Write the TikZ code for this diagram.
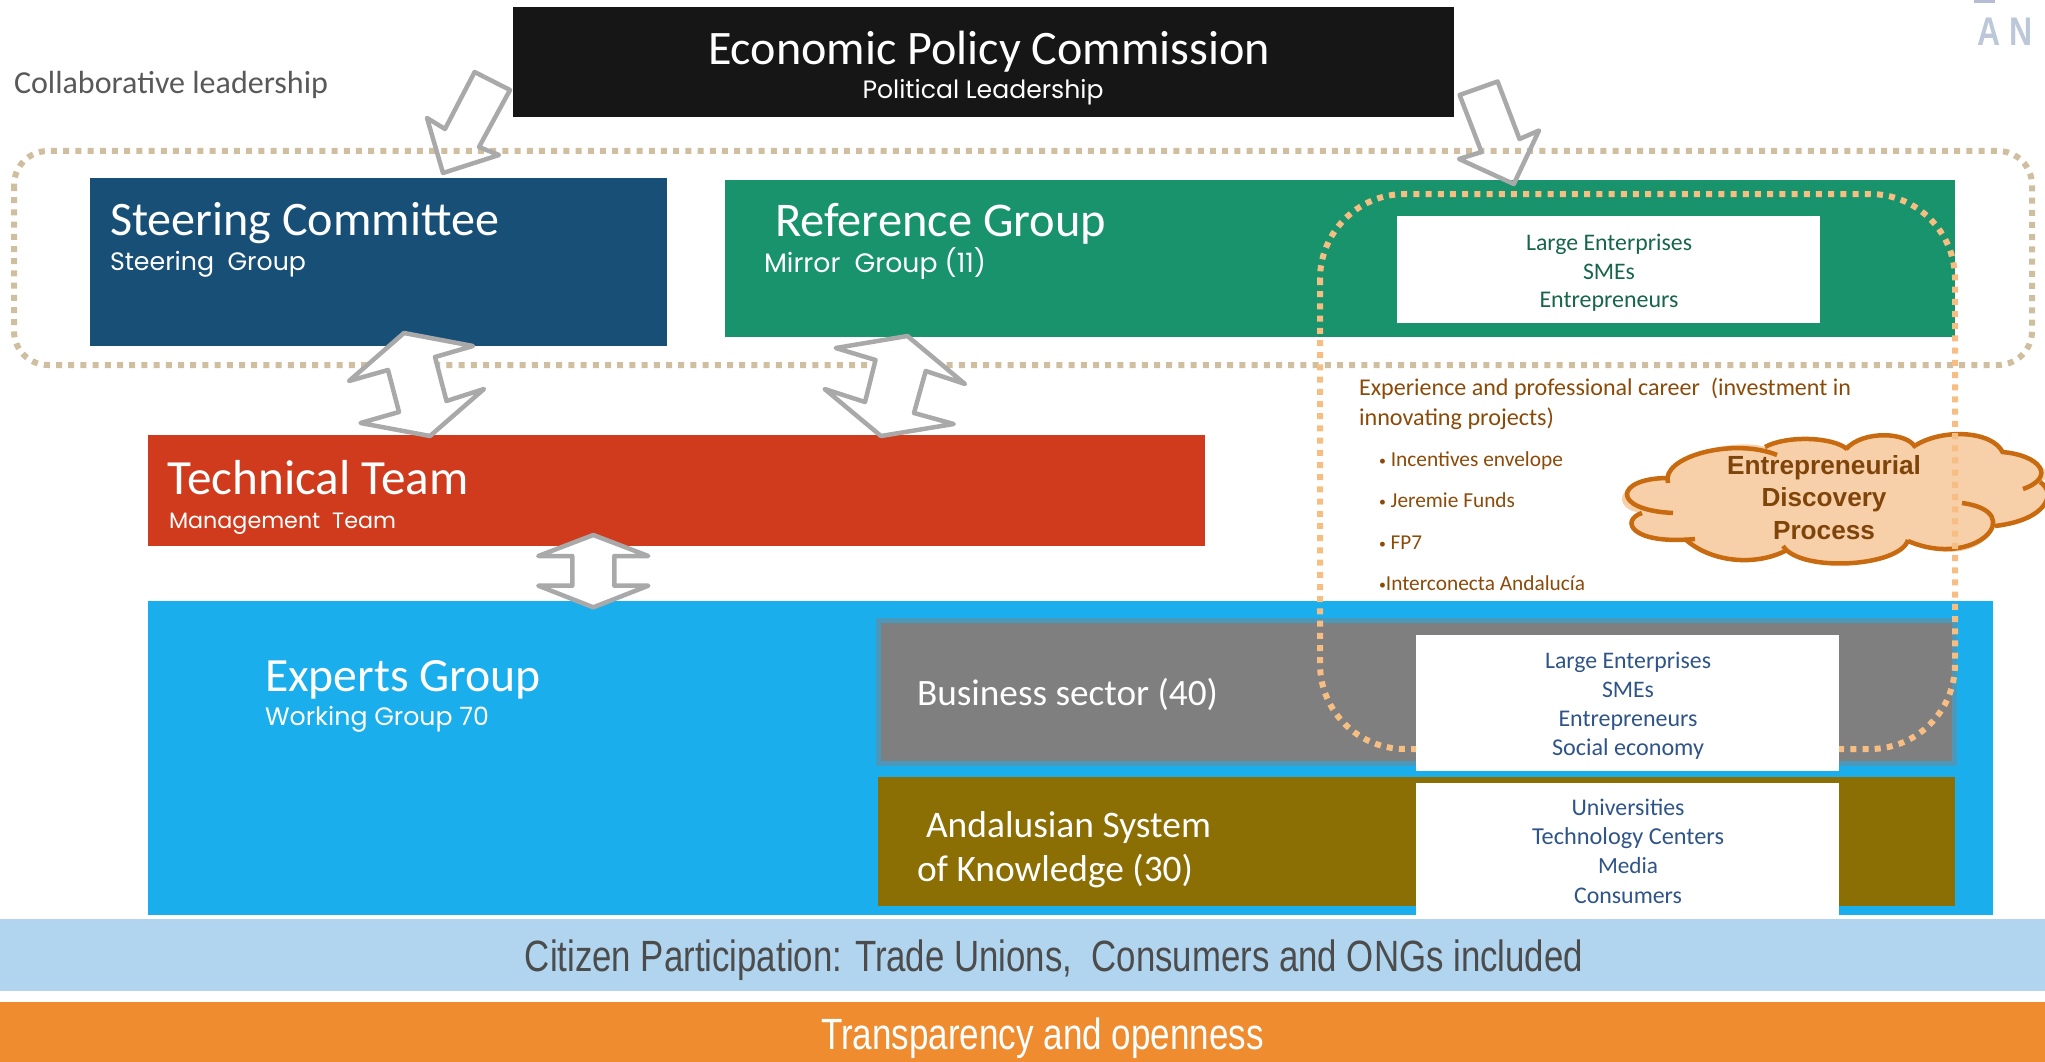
\documentclass[tikz,border=0pt]{standalone}
\usepackage{fontspec}
\usepackage{graphicx}
\setmainfont{Carlito}
\newfontfamily\comicf{Poppins}
\newfontfamily\arialf{Liberation Sans}
\newcommand{\tstrut}{\rule[-9.6pt]{0pt}{48pt}}
\newcommand{\ft}[2]{\resizebox{#1pt}{!}{\fontsize{40}{48}\selectfont\tstrut #2}}
\newcommand{\fc}[2]{\resizebox{#1pt}{!}{\comicf\fontsize{40}{48}\selectfont\tstrut #2}}
\newcommand{\sbul}{\raisebox{3pt}{\scalebox{.65}{•}}}
\definecolor{cblack}{HTML}{161616}
\definecolor{csteer}{HTML}{174F77}
\definecolor{cref}{HTML}{18936B}
\definecolor{ctech}{HTML}{CF3B1C}
\definecolor{cexp}{HTML}{1AAEEC}
\definecolor{cgrey}{HTML}{7F7F7F}
\definecolor{cgborder}{HTML}{4B98BA}
\definecolor{candal}{HTML}{8B6E04}
\definecolor{ccit}{HTML}{B1D4EF}
\definecolor{corange}{HTML}{EE8C2F}
\definecolor{ctan}{HTML}{CFBFA0}
\definecolor{cdot}{HTML}{F7BE84}
\definecolor{carrow}{HTML}{A9A9A9}
\definecolor{ccloud}{HTML}{F7CFA8}
\definecolor{ccloudl}{HTML}{C76A10}
\definecolor{cbrown}{HTML}{8B4A08}
\definecolor{ccloudt}{HTML}{7F4409}
\definecolor{cgreen}{HTML}{17654A}
\definecolor{cnavy}{HTML}{2F5488}
\definecolor{clogo}{HTML}{BCC8DA}
\definecolor{clogob}{HTML}{B5BDD6}
\tikzset{
  box/.style={anchor=north west,inner sep=0pt,outer sep=0pt,draw=none},
  lab/.style={anchor=west,inner sep=0pt,outer sep=0pt,text=white},
  clab/.style={anchor=center,inner sep=0pt,outer sep=0pt},
  blockarrow/.style={draw=carrow,line width=4.5pt,line join=round},
  blockfilled/.style={blockarrow,fill=white},
  dottan/.style={draw=ctan,line width=6pt,dash pattern=on 6pt off 6.2pt,rounded corners=34pt},
  dotorange/.style={draw=cdot,line width=6pt,dash pattern=on 6pt off 6.2pt,rounded corners=85pt},
  cloudarc/.style={draw=ccloudl,line width=4.5pt},
}
\begin{document}
\begin{tikzpicture}[x=1pt,y=-1pt]
\useasboundingbox (0,0) rectangle (2045,1062);
\begin{scope}
\clip (0,0) rectangle (2045,1062);
% tan dotted frame
\draw[dottan] (14,151) rectangle (2032,365);
% boxes
\node[box,fill=cblack,minimum width=941pt,minimum height=110pt] (epc) at (513,7) {};
\node[box,fill=csteer,minimum width=577pt,minimum height=168pt] (steer) at (90,178) {};
\node[box,fill=cref,minimum width=1230pt,minimum height=157pt] (ref) at (725,180) {};
\node[box,fill=ctech,minimum width=1057pt,minimum height=111pt] (tech) at (148,435) {};
\node[box,fill=cexp,minimum width=1845pt,minimum height=314pt] (exp) at (148,601) {};
\node[box,fill=cgrey,draw=cgborder,line width=5pt,minimum width=1076pt,minimum height=143pt] (bus) at (878.5,620.5) {};
\node[box,fill=candal,minimum width=1077pt,minimum height=129pt] (and) at (878,777) {};
\node[box,fill=white,minimum width=423pt,minimum height=107pt] (w1) at (1397,216) {};
% block arrows
\draw[blockarrow] (474.6,72) -- (510,90) -- (479,147) -- (499,155) -- (443,173) -- (427,118) -- (445,129) -- cycle;
\draw[blockarrow] (1497.6,81.5) -- (1519.5,139) -- (1539,130.5) -- (1513.8,184) -- (1459,159) -- (1481.5,152) -- (1459.6,95) -- cycle;
\draw[blockfilled] (404,333) -- (473,346) -- (435,357) -- (446.5,401) -- (484,389) -- (430,436) -- (360.5,423) -- (399,412) -- (388,370) -- (349,381) -- cycle;
\draw[blockfilled] (907.4,336) -- (965,384) -- (925.7,371) -- (914,413) -- (953.7,424) -- (881,436) -- (824.6,389) -- (865,402) -- (875.5,360) -- (835.7,348) -- cycle;
\draw[blockfilled] (593.3,535) -- (648.3,556) -- (614.3,556) -- (614.3,585.7) -- (648.3,585.7) -- (593.3,607.3) -- (538.3,585.7) -- (572.3,585.7) -- (572.3,556) -- (538.3,556) -- cycle;
% cloud fill
\fill[ccloud]
  (1668,483) .. controls (1660,457) and (1733,437) .. (1765,447)
  .. controls (1787,435) and (1833,437) .. (1847,449)
  .. controls (1863,430) and (1907,432) .. (1915,447)
  .. controls (1940,428) and (1993,430) .. (2003,453)
  .. controls (2040,455) and (2057,477) .. (2040,482)
  .. controls (2057,493) and (2047,520) .. (1995,526)
  .. controls (1985,550) and (1950,562) .. (1908,541)
  .. controls (1900,567) and (1800,573) .. (1785,548)
  .. controls (1755,567) and (1710,562) .. (1685,539)
  .. controls (1630,545) and (1620,520) .. (1642,513)
  .. controls (1610,510) and (1615,478) .. (1668,478) -- cycle;
% cloud outline arcs
\draw[cloudarc] (1668,483) .. controls (1660,457) and (1733,437) .. (1777,455);
\draw[cloudarc] (1765,447) .. controls (1787,435) and (1833,437) .. (1847,449);
\draw[cloudarc] (1846,449) .. controls (1863,430) and (1907,432) .. (1915,447);
\draw[cloudarc] (1913,447) .. controls (1940,428) and (1993,430) .. (2003,453);
\draw[cloudarc] (2002,452) .. controls (2040,455) and (2057,477) .. (2023,489);
\draw[cloudarc] (2040,482) .. controls (2057,493) and (2047,520) .. (1995,526);
\draw[cloudarc] (1962,503) .. controls (2030,512) and (1975,570) .. (1908,541);
\draw[cloudarc] (1908,540) .. controls (1900,567) and (1800,573) .. (1783,546);
\draw[cloudarc] (1787,550) .. controls (1755,567) and (1710,562) .. (1685,539);
\draw[cloudarc] (1695,539) .. controls (1630,545) and (1620,520) .. (1642,513);
\draw[cloudarc] (1673,513) .. controls (1610,510) and (1615,478) .. (1668,478);
% orange dotted
\draw[dotorange] (1320,194) rectangle (1955,749);
% white boxes over dots
\node[box,fill=white,minimum width=423pt,minimum height=136pt] (w2) at (1416,635) {};
\node[box,fill=white,minimum width=423pt,minimum height=136pt] (w3) at (1416,783) {};
% bands
\node[box,fill=ccit,minimum width=2045pt,minimum height=72pt] (cit) at (0,919) {};
\node[box,fill=corange,minimum width=2045pt,minimum height=60pt] (trans) at (0,1002) {};
% logo fragment
\fill[clogob] (1974,0) rectangle (1995,3);
\end{scope}
% text
\node[clab,text=white] (t1) at (989,47) {\ft{562}{Economic Policy Commission}};
\node[clab,text=white] (t2) at (983,90) {\fc{241}{Political Leadership}};
\node[lab,text=black!65] (t3) at (14,82) {\ft{314}{Collaborative leadership}};
\node[lab] (t4) at (110,218) {\ft{389}{Steering Committee}};
\node[lab] (t5) at (110,262) {\fc{196}{Steering\ \ Group}};
\node[lab] (t6) at (775,219) {\ft{331}{Reference Group}};
\node[lab] (t7) at (764,263) {\fc{222}{Mirror\ \ Group (11)}};
\node[lab] (t8) at (167.5,477) {\ft{301}{Technical Team}};
\node[lab] (t9) at (169,521) {\fc{227}{Management\ \ Team}};
\node[lab] (t10) at (265,674) {\ft{276}{Experts Group}};
\node[lab] (t11) at (265,717) {\fc{224}{Working Group 70}};
\node[lab] (t12) at (917,692) {\ft{301}{Business sector (40)}};
\node[lab] (t13) at (926,824) {\ft{285}{Andalusian System}};
\node[lab] (t14) at (917,868) {\ft{276}{of Knowledge (30)}};
\node[clab,text=cgreen] at (1609,242) {\ft{166}{Large Enterprises}};
\node[clab,text=cgreen] at (1609,271) {\ft{52}{SMEs}};
\node[clab,text=cgreen] at (1609,299) {\ft{139}{Entrepreneurs}};
\node[clab,text=cnavy] at (1628,660) {\ft{166}{Large Enterprises}};
\node[clab,text=cnavy] at (1628,689) {\ft{52}{SMEs}};
\node[clab,text=cnavy] at (1628,718) {\ft{139}{Entrepreneurs}};
\node[clab,text=cnavy] at (1628,747) {\ft{152}{Social economy}};
\node[clab,text=cnavy] at (1628,807) {\ft{113}{Universities}};
\node[clab,text=cnavy] at (1628,836) {\ft{192}{Technology Centers}};
\node[clab,text=cnavy] at (1628,865) {\ft{60}{Media}};
\node[clab,text=cnavy] at (1628,895) {\ft{108}{Consumers}};
\node[lab,text=cbrown] at (1359,387) {\ft{492}{Experience and professional career\ \ (investment in}};
\node[lab,text=cbrown] at (1359,417) {\ft{195}{innovating projects)}};
\node[lab,text=cbrown] at (1379,459) {\ft{184}{\sbul\ Incentives envelope}};
\node[lab,text=cbrown] at (1379,500) {\ft{136}{\sbul\ Jeremie Funds}};
\node[lab,text=cbrown] at (1379,542) {\ft{43}{\sbul\ FP7}};
\node[lab,text=cbrown] at (1379,583) {\ft{206}{\sbul Interconecta Andalucía}};
\node[clab,text=ccloudt] at (1824,465) {\resizebox{194pt}{!}{\arialf\bfseries\fontsize{40}{48}\selectfont\tstrut Entrepreneurial}};
\node[clab,text=ccloudt] at (1824,497) {\resizebox{125pt}{!}{\arialf\bfseries\fontsize{40}{48}\selectfont\tstrut Discovery}};
\node[clab,text=ccloudt] at (1824,530) {\resizebox{102pt}{!}{\arialf\bfseries\fontsize{40}{48}\selectfont\tstrut Process}};
\node[clab,text=black!70] (t20) at (1054,956) {\resizebox{1058pt}{42pt}{\arialf\fontsize{40}{48}\selectfont\tstrut Citizen Participation: Trade Unions,\ \ Consumers and ONGs included}};
\node[clab,text=white] (t21) at (1042.5,1034) {\resizebox{443pt}{42pt}{\arialf\fontsize{40}{48}\selectfont\tstrut Transparency and openness}};
\node[anchor=base west,inner sep=0pt,text=clogo] (t22) at (1977,46) {\arialf\bfseries\fontsize{40}{44}\selectfont\scalebox{.8}[1]{A\hspace{12pt}N}};
\end{tikzpicture}
\end{document}
